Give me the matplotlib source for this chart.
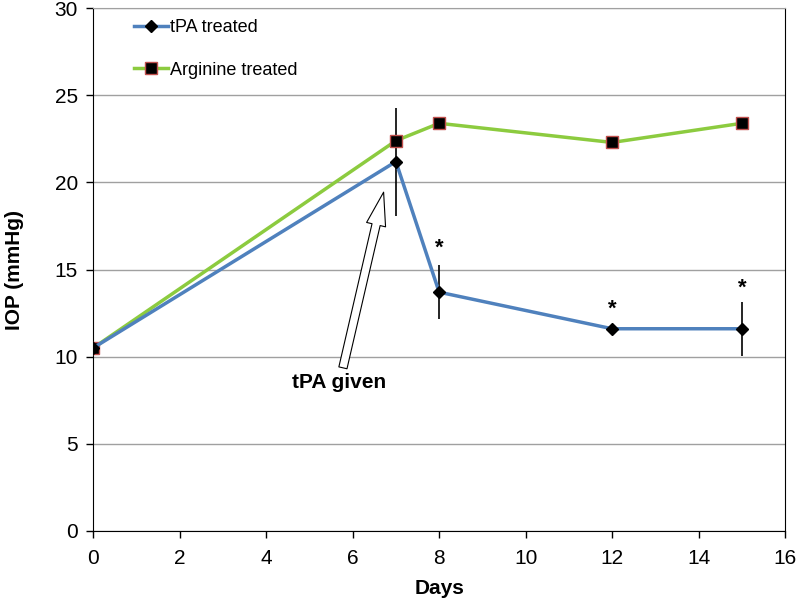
import matplotlib
matplotlib.use("Agg")
import matplotlib.pyplot as plt

plt.rcParams['font.family'] = ['Liberation Sans', 'DejaVu Sans']

days = [0, 7, 8, 12, 15]
tpa_iop = [10.5, 21.2, 13.7, 11.6, 11.6]
tpa_err = [1.5, 3.1, 1.55, 0.0, 1.55]
arg_iop = [10.5, 22.4, 23.4, 22.3, 23.4]

# significance markers (day, height)
star_days = [8, 12, 15]
star_y = [16.2, 12.7, 13.9]

fig = plt.figure(figsize=(7.97, 5.99), dpi=100)
ax = fig.add_axes([0.117, 0.114, 0.868, 0.872])

ax.errorbar(days, tpa_iop, yerr=tpa_err, fmt='none', ecolor='black',
            elinewidth=1.2, capsize=0, zorder=2)
ax.plot(days, arg_iop, color='#8CCB3F', lw=2.5, marker='s', ms=9,
        mfc='black', mec='#C0504D', mew=1, label='Arginine treated', zorder=3)
ax.plot(days, tpa_iop, color='#4F81BD', lw=2.5, marker='D', ms=6,
        mfc='black', mec='black', label='tPA treated', zorder=4)

for d, y in zip(star_days, star_y):
    ax.text(d, y, '*', ha='center', va='center', fontsize=16, fontweight='bold')

ax.annotate('', xy=(6.73, 19.6), xytext=(5.76, 9.2),
            arrowprops=dict(arrowstyle='simple,head_length=2.4,head_width=1.4,tail_width=0.6',
                            fc='white', ec='black', lw=0.8))
ax.text(5.69, 8.5, 'tPA given', ha='center', va='center', fontsize=15,
        fontweight='bold')

ax.set_xlim(0, 16)
ax.set_ylim(0, 30)
ax.set_xticks(range(0, 17, 2))
ax.set_yticks(range(0, 31, 5))
ax.yaxis.grid(True, color='#A0A0A0', lw=1)
ax.set_axisbelow(True)
ax.tick_params(labelsize=15, direction='out', length=5, width=1)
ax.tick_params(axis='x', pad=8)
ax.tick_params(axis='y', pad=6)
for s in ax.spines.values():
    s.set_color('black')
ax.spines['top'].set_color('#A0A0A0')

ax.set_xlabel('Days', fontsize=15, fontweight='bold', labelpad=8)
ax.set_ylabel('IOP (mmHg)', fontsize=15, fontweight='bold', labelpad=22)

h, l = ax.get_legend_handles_labels()
ax.legend(h[::-1], l[::-1], loc='upper left', frameon=False, fontsize=13,
          handlelength=1.9, handletextpad=0.1, labelspacing=1.4,
          bbox_to_anchor=(0.035, 1.01))

fig.savefig('out.png', dpi=100)
